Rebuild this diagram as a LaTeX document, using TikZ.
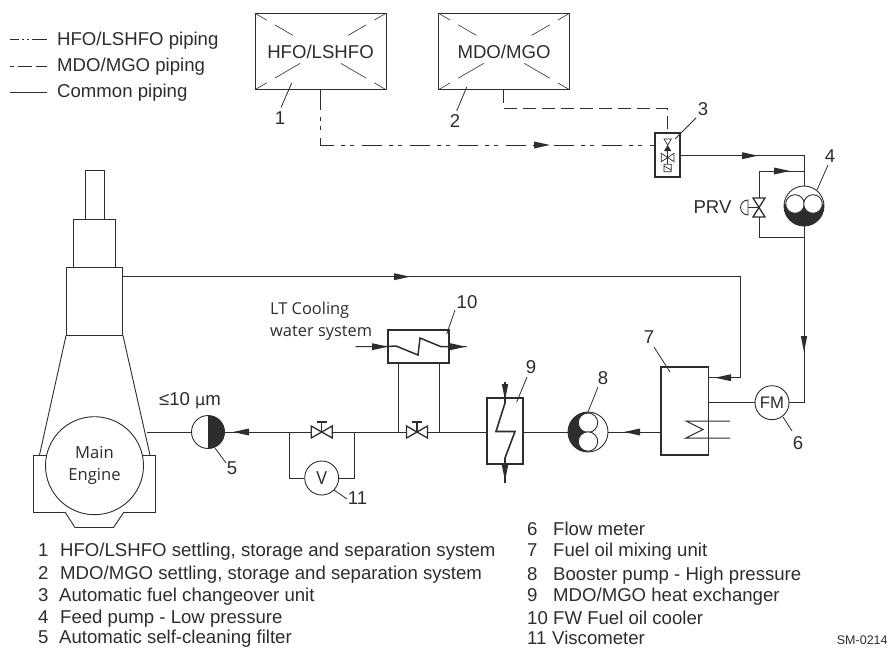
\documentclass[tikz,border=0pt]{standalone}
\usepackage{fontspec}
\setmainfont{Liberation Sans}
\newfontfamily\humanist{Open Sans}
\newfontfamily\djv{DejaVu Sans}
\usetikzlibrary{calc}
\definecolor{ink}{HTML}{2E2C2D}
\tikzset{
  pipe/.style={draw=ink,line width=1pt},
  hfopipe/.style={pipe,dash pattern=on 20pt off 7pt on 4pt off 5pt on 4pt off 8pt},
  mdopipe/.style={pipe,dash pattern=on 13pt off 6pt},
  leader/.style={draw=ink,line width=0.8pt},
  lbl/.style={text=ink,font=\fontsize{18.6}{20}\selectfont,inner sep=0pt},
  num/.style={lbl},
  listt/.style={lbl,anchor=base west},
  hum/.style={lbl,font=\humanist\fontsize{16.4}{22}\selectfont,align=left},
  tank/.style={draw=ink,line width=0.9pt,minimum width=131pt,minimum height=76.5pt,inner sep=0pt,text=ink,font=\fontsize{18.6}{20}\selectfont},
  heavy/.style={draw=ink,line width=1.8pt,inner sep=0pt,fill=white},
  disc/.style={circle,draw=ink,line width=0.9pt,fill=white,inner sep=0pt},
  eng/.style={draw=ink,line width=0.9pt,fill=white},
}
% arrowheads: right, left, down
\newcommand{\headR}[1]{\fill[ink] ($(#1)+(-8,-3.5)$) -- ($(#1)+(8,0)$) -- ($(#1)+(-8,3.5)$) -- cycle;}
\newcommand{\headL}[1]{\fill[ink] ($(#1)+(8,-3.5)$) -- ($(#1)+(-8,0)$) -- ($(#1)+(8,3.5)$) -- cycle;}
\newcommand{\headD}[1]{\fill[ink] ($(#1)+(-3.2,-8)$) -- ($(#1)+(0,8)$) -- ($(#1)+(3.2,-8)$) -- cycle;}
% broken cross in a tank
\newcommand{\tankcross}[1]{%
  \foreach \cx/\cy in {1/1,1/-1,-1/1,-1/-1}{%
    \coordinate (cc) at (#1.center);
    \draw[draw=ink,line width=0.6pt] ($(cc)+(\cx*65.5,\cy*38.2)$) -- ($(cc)+(\cx*65.5*0.82,\cy*38.2*0.82)$);
  }%
  \foreach \cx in {1,-1}{%
    \draw[draw=ink,line width=0.6pt] ($(#1.center)+(\cx*65.5*0.70,-38.2*0.70)$) -- ($(#1.center)+(\cx*65.5*0.425,-38.2*0.425)$);
    \draw[draw=ink,line width=0.6pt] ($(#1.center)+(\cx*65.5*0.70,38.2*0.70)$) -- ($(#1.center)+(\cx*65.5*0.31,38.2*0.31)$);
  }}
% gate valve on a horizontal pipe
\newcommand{\hvalve}[1]{%
  \draw[draw=ink,line width=1.3pt,fill=white] ($(#1)+(-10.5,-6)$) -- ($(#1)+(10.5,6)$) -- ($(#1)+(10.5,-6)$) -- ($(#1)+(-10.5,6)$) -- cycle;
  \draw[draw=ink,line width=1.3pt] (#1) -- ($(#1)+(0,-10)$) ($(#1)+(-5,-10)$) -- ($(#1)+(5,-10)$);}
\begin{document}
\begin{tikzpicture}[x=1pt,y=-1pt]
\useasboundingbox (0,0) rectangle (891,648);

% --- legend
\coordinate (l1a) at (10,39.5); \coordinate (l1b) at (47,39.5);
\coordinate (l2a) at (10,66); \coordinate (l2b) at (47,66);
\coordinate (l3a) at (10,92); \coordinate (l3b) at (47,92);
\draw[pipe,dash pattern=on 9pt off 3pt on 2pt off 3pt on 2pt off 3pt on 15pt] (l1a) -- (l1b);
\draw[pipe,dash pattern=on 4pt off 4pt on 14pt off 4pt on 11pt] (l2a) -- (l2b);
\draw[pipe] (l3a) -- (l3b);
\node[listt] (leg1) at (57,45) {HFO/LSHFO piping};
\node[listt] (leg2) at (57,71.7) {MDO/MGO piping};
\node[listt] (leg3) at (57,97.7) {Common piping};

% --- tanks
\node[tank] (hfo) at (320.5,51.5) {HFO/LSHFO};
\node[tank] (mdo) at (504,51.5) {MDO/MGO};
\tankcross{hfo}
\tankcross{mdo}
\node[num] (n1) at (280,118) {1};
\node[num] (n2) at (455,121.5) {2};
\coordinate (l1s) at (291.7,83); \coordinate (l1e) at (281,107.5);
\coordinate (l2s) at (466.7,87); \coordinate (l2e) at (456.7,111);
\draw[leader] (l1s) -- (l1e);
\draw[leader] (l2s) -- (l2e);

% --- changeover unit
\node[heavy,minimum width=25pt,minimum height=44pt] (cov) at (667.7,155) {};
\coordinate (hfoc) at (320.7,145);
\coordinate (hfoe) at (cov.west |- hfoc);
\draw[hfopipe] (hfo.south -| hfoc) -- (hfoc) -- (hfoe);
\coordinate (mdoc) at (503.7,108.7);
\coordinate (mdod) at (667.7,108.7);
\draw[mdopipe] (mdo.south -| mdoc) -- (mdoc) -- (mdod) -- (cov.north);
\headR{542,145}
% valve glyph in unit
\draw[draw=ink,line width=0.7pt] (664,139) -- (671.3,139) -- (667.7,145) -- cycle;
\fill[ink] (667.7,145) -- (664,151) -- (671.3,151) -- cycle;
\draw[draw=ink,line width=0.7pt] (667.7,151) -- (667.7,164.3);
\draw[draw=ink,line width=0.7pt] (661.3,153.3) -- (674,161.7) -- (674,153.3) -- (661.3,161.7) -- cycle;
\draw[draw=ink,line width=0.7pt] (664,164.3) rectangle (671.3,171.7) (664,166) -- (671.3,170);
\node[num] (n3) at (703,109) {3};
\coordinate (l3s) at (675,139); \coordinate (l3e) at (696,118);
\draw[leader] (l3s) -- (l3e);

% --- feed pump and PRV
\node[disc,minimum size=40pt] (p4) at (804,206) {};
\coordinate (j4a) at (804,155.7);
\coordinate (j4b) at (804,171);
\coordinate (j4c) at (759,171);
\coordinate (j4d) at (759,237.7);
\coordinate (j4e) at (804,237.7);
\coordinate (prv) at (759,207.5);
\draw[pipe] (cov.east |- j4a) -- (j4a) -- (p4.north);
\draw[pipe] (j4b) -- (j4c) -- (j4d) -- (j4e);
\headR{750,155.7}
\headR{782,171}
\begin{scope}
  \clip (784,204) rectangle (824,227);
  \fill[ink] (p4.center) circle (20);
\end{scope}
\draw[draw=ink,line width=0.9pt,fill=white] (795,204) circle (9.3);
\draw[draw=ink,line width=0.9pt,fill=white] (813,204) circle (9.3);
\draw[draw=ink,line width=1.3pt,fill=white] (753,198) -- (765,198) -- (753,217) -- (765,217) -- cycle;
\draw[draw=ink,line width=0.9pt] (prv) -- (748,207.5);
\draw[draw=ink,line width=0.9pt] (748,215) arc[start angle=90,end angle=270,radius=7.5] -- cycle;
\node[lbl] (prvl) at (712.5,207) {PRV};
\node[num] (n4) at (830,156) {4};
\coordinate (l4s) at (817,190); \coordinate (l4e) at (828,165);
\draw[leader] (l4s) -- (l4e);

% --- flow meter
\node[disc,minimum size=34pt,font=\fontsize{16.7}{18}\selectfont,text=ink] (fm) at (772,402.7) {FM};
\coordinate (j6) at (804,402.7);
\draw[pipe] (p4.south) -- (j6) -- (fm.east);
\headD{804,344}
\node[num] (n6) at (798,443) {6};
\coordinate (l6s) at (783,417); \coordinate (l6e) at (792,431);
\draw[leader] (l6s) -- (l6e);

% --- mixing unit
\node[heavy,minimum width=47.5pt,minimum height=88pt] (mix) at (684.8,411) {};
\draw[pipe] (fm.west) -- (fm.west -| mix.east);
\coordinate (c1a) at (730,421); \coordinate (c1b) at (686,421); \coordinate (c1c) at (703,429.5);
\coordinate (c1d) at (686,438); \coordinate (c1e) at (730,438);
\draw[pipe] (c1a) -- (c1b) -- (c1c) -- (c1d) -- (c1e);
\node[num] (n7) at (649,337) {7};
\coordinate (l7s) at (670,372); \coordinate (l7e) at (654,347);
\draw[leader] (l7s) -- (l7e);

% --- booster pump
\node[disc,minimum size=40pt] (p8) at (588,432) {};
\begin{scope}
  \clip (567,411) rectangle (588,453);
  \fill[ink] (p8.center) circle (20);
\end{scope}
\draw[draw=ink,line width=0.9pt,fill=white] (588,422.7) circle (9.7);
\draw[draw=ink,line width=0.9pt,fill=white] (588,441.5) circle (9.7);
\draw[pipe] (mix.west |- p8) -- (p8.east);
\headL{632,432}
\node[num] (n8) at (603,378) {8};
\coordinate (l8s) at (588,412); \coordinate (l8e) at (598,387);
\draw[leader] (l8s) -- (l8e);

% --- MDO/MGO heat exchanger
\node[heavy,minimum width=36pt,minimum height=66pt] (hx9) at (505,431) {};
\draw[pipe] (p8.west) -- (p8.west -| hx9.east);
\coordinate (z9a) at (505,382); \coordinate (z9b) at (505,403); \coordinate (z9c) at (496,431.5);
\coordinate (z9d) at (515,431.5); \coordinate (z9e) at (505,458); \coordinate (z9f) at (505,483);
\draw[draw=ink,line width=1.6pt] (z9b) -- (z9c) -- (z9d) -- (z9e);
\draw[draw=ink,line width=1.3pt] (z9a) -- (z9b) (z9e) -- (z9f);
\headD{505,392}
\headD{505,473}
\node[num] (n9) at (531,367) {9};
\coordinate (l9s) at (516.7,402); \coordinate (l9e) at (527,377);
\draw[leader] (l9s) -- (l9e);

% --- pipe from exchanger to filter, valves
\node[disc,minimum size=33pt] (flt) at (208,432) {};
\fill[ink] (208,415.5) arc[start angle=-90,end angle=90,radius=16.5] -- cycle;
\coordinate (jv1) at (289,432);
\coordinate (jv2) at (354.7,432);
\coordinate (jc1) at (398,432);
\coordinate (jc2) at (439,432);
\draw[pipe] (hx9.west |- flt) -- (flt.east);
\headL{241,432}
\hvalve{321.7,432}
\hvalve{417,432}

% --- viscometer
\node[disc,minimum size=34pt,font=\humanist\fontsize{18}{20}\selectfont,text=ink] (vis) at (321.7,478) {V};
\coordinate (jv1d) at (289,478);
\coordinate (jv2d) at (354.7,478);
\draw[pipe] (jv1) -- (jv1d) -- (vis.west);
\draw[pipe] (vis.east) -- (jv2d) -- (jv2);
\node[num] (n11) at (357.5,498) {11};
\coordinate (l11s) at (334,490); \coordinate (l11e) at (347,499);
\draw[leader] (l11s) -- (l11e);

% --- FW cooler
\node[heavy,minimum width=61pt,minimum height=33pt] (cool) at (418.5,346.5) {};
\draw[pipe] (jc1) -- (jc1 |- cool.south);
\draw[pipe] (jc2) -- (jc2 |- cool.south);
\coordinate (ci) at (355.7,346.7);
\coordinate (co) at (466.7,346.7);
\draw[draw=ink,line width=1.1pt] (ci) -- (cool.west) (cool.east) -- (co);
\draw[draw=ink,line width=1.5pt] (cool.west) -- (396,346) -- (418,355) -- (420,338) -- (441,346.7) -- (cool.east);
\headR{380,346.7}
\headR{458,346.7}
\node[num] (n10) at (467,301.7) {10};
\coordinate (l10s) at (446.7,334); \coordinate (l10e) at (455,310);
\draw[leader] (l10s) -- (l10e);
\node[hum,anchor=west] (ltc) at (270,321) {LT Cooling\\water system};

% --- filter labels
\node[lbl] (filt) at (190,401) {≤10 {\djv\fontsize{16}{18}\selectfont µ}m};
\node[num] (n5) at (232,468) {5};
\coordinate (l5s) at (215,448); \coordinate (l5e) at (226,463);
\draw[leader] (l5s) -- (l5e);

% --- engine
\draw[eng] (85,170) rectangle (104.5,219);
\draw[eng] (73.5,219) rectangle (115.5,267);
\node[eng,minimum width=56pt,minimum height=68pt,inner sep=0pt] (cyl) at (94.5,301) {};
\draw[eng] (33.5,455) rectangle (155.5,512);
\draw[eng] (65,512) -- (75,527.5) -- (113.5,527.5) -- (124,512);
\draw[draw=ink,line width=0.9pt] (cyl.south west) -- (39.5,455) (cyl.south east) -- (150,455);
\node[disc,minimum size=98pt,align=center,font=\humanist\fontsize{16.6}{22}\selectfont,text=ink] (me) at (94.5,465.7) {Main\\Engine};
\coordinate (ep) at (146.5,432);
\draw[pipe] (ep) -- (flt.west);
\coordinate (rt) at (122.5,276.7);
\coordinate (rc) at (740.7,276.7);
\coordinate (rd) at (740.7,377.7);
\coordinate (rm) at (708.5,377.7);
\draw[pipe] (rt) -- (rc) -- (rd) -- (rm);
\headR{402,276.7}
\headL{723,377.7}

% --- item lists
\node[listt] (ia0) at (38,556) {1};\node[listt] (ia) at (60,556) {HFO/LSHFO settling, storage and separation system};
\node[listt] (ib0) at (38,579) {2};\node[listt] (ib) at (60,579) {MDO/MGO settling, storage and separation system};
\node[listt] (ic0) at (38,601) {3};\node[listt] (ic) at (59,601) {Automatic fuel changeover unit};
\node[listt] (id0) at (38,623.5) {4};\node[listt] (id) at (60,623.5) {Feed pump - Low pressure};
\node[listt] (ie0) at (38,643.5) {5};\node[listt] (ie) at (59,643.5) {Automatic self-cleaning filter};
\node[listt] (ja0) at (527,535) {6};\node[listt] (ja) at (553,535) {Flow meter};
\node[listt] (jb0) at (527,556.7) {7};\node[listt] (jb) at (553,556.7) {Fuel oil mixing unit};
\node[listt] (jc0) at (527,580) {8};\node[listt] (jc) at (553,580) {Booster pump - High pressure};
\node[listt] (jd0) at (527,601.7) {9};\node[listt] (jd) at (553,601.7) {MDO/MGO heat exchanger};
\node[listt] (je0) at (527,624) {10};\node[listt] (je) at (553,624) {FW Fuel oil cooler};
\node[listt] (jf0) at (527,644.5) {11};\node[listt] (jf) at (552,644.5) {Viscometer};
\node[listt,font=\fontsize{12.5}{14}\selectfont] (sm) at (836.7,644.5) {SM-0214};
\end{tikzpicture}
\end{document}
